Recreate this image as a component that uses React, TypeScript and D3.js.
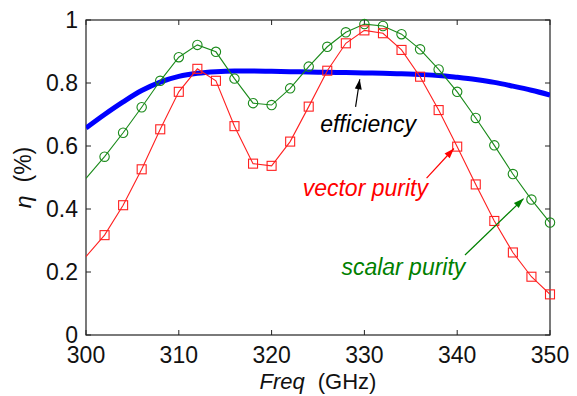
import React from 'react'
import * as d3 from 'd3'

// frequency grid (GHz)
const freqs = [300, 302, 304, 306, 308, 310, 312, 314, 316, 318, 320, 322, 324,
  326, 328, 330, 332, 334, 336, 338, 340, 342, 344, 346, 348, 350]

// efficiency (thick blue)
const efficiency = [0.657, 0.700, 0.740, 0.776, 0.803, 0.821, 0.831, 0.836, 0.838, 0.838,
  0.837, 0.836, 0.835, 0.834, 0.833, 0.832, 0.831, 0.829, 0.827, 0.824, 0.818, 0.811,
  0.802, 0.790, 0.777, 0.762]

// scalar purity (green circles)
const scalarPurity = [0.497, 0.566, 0.642, 0.723, 0.807, 0.882, 0.921, 0.899, 0.814, 0.736,
  0.730, 0.783, 0.852, 0.915, 0.961, 0.987, 0.981, 0.955, 0.907, 0.843, 0.772, 0.689,
  0.602, 0.511, 0.430, 0.357]

// vector purity (red squares)
const vectorPurity = [0.249, 0.317, 0.412, 0.526, 0.653, 0.772, 0.845, 0.807, 0.663, 0.544,
  0.537, 0.614, 0.725, 0.839, 0.926, 0.967, 0.958, 0.905, 0.820, 0.714, 0.598, 0.478,
  0.362, 0.262, 0.185, 0.129]

const xTicks = [300, 310, 320, 330, 340, 350]
const yTicks = [0, 0.2, 0.4, 0.6, 0.8, 1]

// annotation labels in data units: text anchor point, arrow start, arrow tip
const notes = [
  { text: 'efficiency', color: '#000000', tx: 330.4, ty: 0.644, x1: 329.05, y1: 0.724, x2: 329.5, y2: 0.812 },
  { text: 'vector purity', color: '#ff0000', tx: 330.1, ty: 0.441, x1: 336.7, y1: 0.498, x2: 339.65, y2: 0.592 },
  { text: 'scalar purity', color: '#008000', tx: 334.2, ty: 0.19, x1: 340.84, y1: 0.254, x2: 347.15, y2: 0.433 },
]

const W = 577
const H = 396
const margin = { top: 20, right: 27, bottom: 61, left: 86 }
const FONT = '"Liberation Sans", Arial, sans-serif'

export default function App() {
  const x = d3.scaleLinear().domain([300, 350]).range([margin.left, W - margin.right])
  const y = d3.scaleLinear().domain([0, 1]).range([H - margin.bottom, margin.top])

  const rows = freqs.map((f, i) => ({ f, eff: efficiency[i], sc: scalarPurity[i], vec: vectorPurity[i] }))
  const markRows = rows.filter(r => r.f > 300)

  const effLine = d3.line<any>().x(d => x(d.f)).y(d => y(d.eff)).curve(d3.curveMonotoneX)
  const scLine = d3.line<any>().x(d => x(d.f)).y(d => y(d.sc))
  const vecLine = d3.line<any>().x(d => x(d.f)).y(d => y(d.vec))

  const x0 = x(300), x1 = x(350), y0 = y(0), y1 = y(1)
  const tick = 5

  const arrowHead = (ax: number, ay: number, bx: number, by: number) => {
    const ang = Math.atan2(by - ay, bx - ax)
    const len = 10, half = 3.5
    const bxp = bx - len * Math.cos(ang), byp = by - len * Math.sin(ang)
    const px = -Math.sin(ang) * half, py = Math.cos(ang) * half
    return `M${bx},${by}L${bxp + px},${byp + py}L${bxp - px},${byp - py}Z`
  }

  return (
    <svg width={W} height={H} style={{ position: 'absolute', left: 0, top: 0, background: '#fff' }}
      fontFamily={FONT}>
      <defs>
        <clipPath id="plot">
          <rect x={x0} y={y1} width={x1 - x0} height={y0 - y1} />
        </clipPath>
      </defs>

      {/* frame */}
      <rect x={x0} y={y1} width={x1 - x0} height={y0 - y1} fill="none" stroke="#222" strokeWidth={1.2} />

      {/* x ticks, inward on bottom and top */}
      {xTicks.map(t => (
        <g key={'x' + t}>
          <line x1={x(t)} x2={x(t)} y1={y0} y2={y0 - tick} stroke="#222" />
          <line x1={x(t)} x2={x(t)} y1={y1} y2={y1 + tick} stroke="#222" />
          <text x={x(t)} y={363} textAnchor="middle" fontSize={23} fill="#111">{t}</text>
        </g>
      ))}

      {/* y ticks, inward on left and right */}
      {yTicks.map(t => (
        <g key={'y' + t}>
          <line x1={x0} x2={x0 + tick} y1={y(t)} y2={y(t)} stroke="#222" />
          <line x1={x1} x2={x1 - tick} y1={y(t)} y2={y(t)} stroke="#222" />
          <text x={78} y={y(t)} dy="0.33em" textAnchor="end" fontSize={23} fill="#111">{d3.format('~g')(t)}</text>
        </g>
      ))}

      <g clipPath="url(#plot)">
        <path d={effLine(rows) || ''} fill="none" stroke="#0000ff" strokeWidth={5} />
        <path d={scLine(rows) || ''} fill="none" stroke="#1a8a1a" strokeWidth={1.1} />
        <path d={vecLine(rows) || ''} fill="none" stroke="#ff2020" strokeWidth={1.1} />
      </g>

      {markRows.map(r => (
        <circle key={'c' + r.f} cx={x(r.f)} cy={y(r.sc)} r={4.7} fill="none" stroke="#1a8a1a" strokeWidth={1.1} />
      ))}
      {markRows.map(r => (
        <rect key={'s' + r.f} x={x(r.f) - 4.5} y={y(r.vec) - 4.5} width={9} height={9}
          fill="none" stroke="#ff2020" strokeWidth={1.1} />
      ))}

      {/* annotations */}
      {notes.map(n => (
        <g key={n.text}>
          <line x1={x(n.x1)} y1={y(n.y1)} x2={x(n.x2)} y2={y(n.y2)} stroke={n.color} strokeWidth={1.2} />
          <path d={arrowHead(x(n.x1), y(n.y1), x(n.x2), y(n.y2))} fill={n.color} />
          <text x={x(n.tx)} y={y(n.ty)} textAnchor="middle" fontSize={23} fontStyle="italic" fill={n.color}>
            {n.text}
          </text>
        </g>
      ))}

      {/* axis labels */}
      <text x={(x0 + x1) / 2} y={389} textAnchor="middle" fontSize={22} fill="#111">
        <tspan fontStyle="italic">Freq</tspan>
        <tspan dx={13}>(GHz)</tspan>
      </text>
      <text transform={`translate(31,${(y0 + y1) / 2}) rotate(-90)`} textAnchor="middle" fontSize={23} fill="#111">
        <tspan fontStyle="italic">η</tspan>
        <tspan dx={13}>(%)</tspan>
      </text>
    </svg>
  )
}
